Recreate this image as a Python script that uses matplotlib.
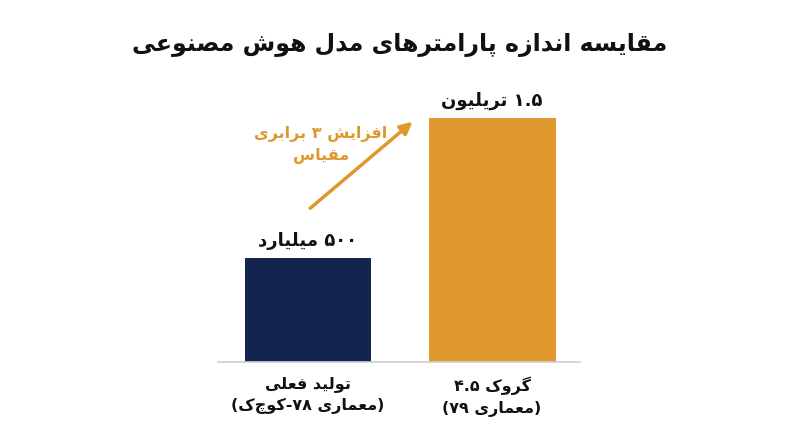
import re
import matplotlib
matplotlib.use("Agg")
import matplotlib.pyplot as plt

# ---------- data ----------
title = "مقایسه اندازه پارامترهای مدل هوش مصنوعی"
categories = ["تولید فعلی\n(معماری ۷۸-کوچک)", "گروک ۴.۵\n(معماری ۷۹)"]
bar_heights = [640, 1500]          # visual bar heights as drawn in the reference
value_labels = ["۵۰۰ میلیارد", "۱.۵ تریلیون"]
annotation = "افزایش ۳ برابری\nمقیاس"
colors = ["#13244f", "#e0982e"]

# ---------- minimal Arabic/Persian shaping ----------
DUAL = {
    'ب': (0xFE8F, 0xFE90, 0xFE91, 0xFE92), 'ت': (0xFE95, 0xFE96, 0xFE97, 0xFE98),
    'س': (0xFEB1, 0xFEB2, 0xFEB3, 0xFEB4), 'ش': (0xFEB5, 0xFEB6, 0xFEB7, 0xFEB8),
    'ص': (0xFEB9, 0xFEBA, 0xFEBB, 0xFEBC), 'ع': (0xFEC9, 0xFECA, 0xFECB, 0xFECC),
    'ف': (0xFED1, 0xFED2, 0xFED3, 0xFED4), 'ق': (0xFED5, 0xFED6, 0xFED7, 0xFED8),
    'ل': (0xFEDD, 0xFEDE, 0xFEDF, 0xFEE0), 'م': (0xFEE1, 0xFEE2, 0xFEE3, 0xFEE4),
    'ن': (0xFEE5, 0xFEE6, 0xFEE7, 0xFEE8), 'ه': (0xFEE9, 0xFEEA, 0xFEEB, 0xFEEC),
    'پ': (0xFB56, 0xFB57, 0xFB58, 0xFB59), 'گ': (0xFB92, 0xFB93, 0xFB94, 0xFB95),
    'ک': (0xFB8E, 0xFB8F, 0xFB90, 0xFB91), 'ی': (0xFBFC, 0xFBFD, 0xFBFE, 0xFBFF),
}
RIGHT = {
    'ا': (0xFE8D, 0xFE8E), 'د': (0xFEA9, 0xFEAA), 'ر': (0xFEAD, 0xFEAE),
    'ز': (0xFEAF, 0xFEB0), 'و': (0xFEED, 0xFEEE),
}
MIRROR = {'(': ')', ')': '('}


def shape_run(run):
    out = []
    n = len(run)
    for i, c in enumerate(run):
        prev_j = i > 0 and run[i - 1] in DUAL
        next_j = i < n - 1 and c in DUAL and (run[i + 1] in DUAL or run[i + 1] in RIGHT)
        if c in DUAL:
            f = DUAL[c]
            idx = 3 if (prev_j and next_j) else 1 if prev_j else 2 if next_j else 0
            out.append(chr(f[idx]))
        elif c in RIGHT:
            out.append(chr(RIGHT[c][1 if prev_j else 0]))
        else:
            out.append(c)
    return ''.join(reversed(out))


def visual_line(s):
    runs = re.findall(r'[\u0600-\u06FF&&[^\u06F0-\u06F9]]+|[\u06F0-\u06F9.]+|[^\u0600-\u06FF]+', s)
    runs = re.findall(r'[\u0621-\u064A\u067E\u0686\u0698\u06A9\u06AF\u06CC]+|[\u06F0-\u06F9.0-9]+|[^\u0621-\u064A\u067E\u0686\u0698\u06A9\u06AF\u06CC\u06F0-\u06F90-9.]+', s)
    vis = []
    for r in runs:
        if re.match(r'[\u06F0-\u06F90-9]', r):
            vis.append(r)
        elif re.match(r'[\u0621-\u064A\u067E\u0686\u0698\u06A9\u06AF\u06CC]', r):
            vis.append(shape_run(r))
        else:
            vis.append(''.join(MIRROR.get(c, c) for c in reversed(r)))
    return ''.join(reversed(vis))


def V(s):
    return '\n'.join(visual_line(l) for l in s.split('\n'))


plt.rcParams['font.family'] = ['DejaVu Sans']

fig = plt.figure(figsize=(8, 4.47), dpi=100)
ax = fig.add_axes([0.2725, 0.19, 0.4525, 0.546])
x = [0, 1]
ax.bar(x, bar_heights, width=0.69, color=colors, zorder=2)
ax.set_xlim(-0.489, 1.478)
ax.set_ylim(0, 1500)
for s in ['top', 'right', 'left']:
    ax.spines[s].set_visible(False)
ax.spines['bottom'].set_color('#d0d0d0')
ax.spines['bottom'].set_linewidth(1.2)
ax.set_yticks([])
ax.set_xticks(x)
ax.set_xticklabels([V(c) for c in categories], fontsize=11.5, fontweight='bold',
                   color='#111111', linespacing=1.5)
ax.tick_params(axis='x', length=0, pad=10)

for xi, h, lab in zip(x, bar_heights, value_labels):
    ax.text(xi, h + 50, V(lab), ha='center', va='bottom', fontsize=13,
            fontweight='bold', color='#111111')

ax.annotate('', xy=(0.58, 1488), xytext=(0.0, 934),
            arrowprops=dict(arrowstyle='-|>', color=colors[1], lw=2.5,
                            mutation_scale=18), annotation_clip=False)
ax.text(0.07, 1334, V(annotation), ha='center', va='center', fontsize=11.5,
        fontweight='bold', color=colors[1], linespacing=1.5)

fig.text(0.5, 0.9, V(title), ha='center', va='center', fontsize=17,
         fontweight='bold', color='#111111')

fig.savefig('out.png', dpi=100, facecolor='white')
